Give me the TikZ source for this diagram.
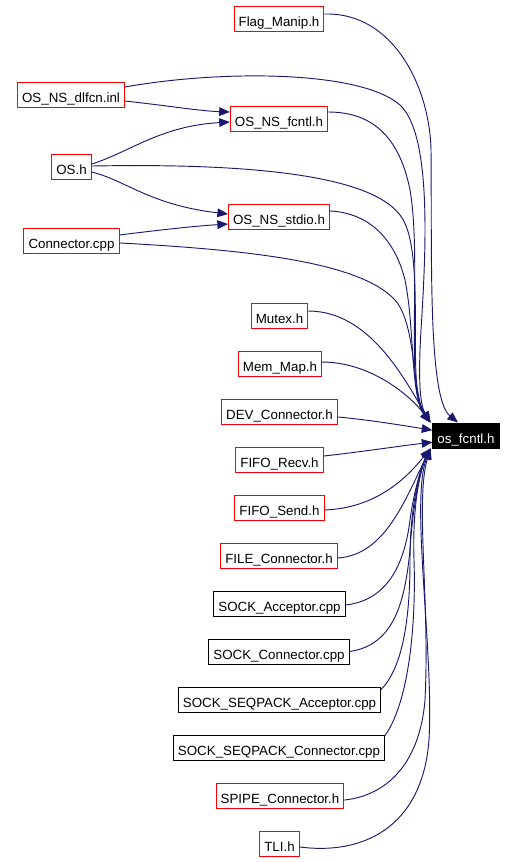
\documentclass[tikz,border=0pt]{standalone}
\usepackage{fontspec}
\setmainfont{Liberation Sans}
\usetikzlibrary{arrows.meta}
\definecolor{edgeblue}{HTML}{191970}
\tikzset{
  fnode/.style={draw=red, line width=0.75pt, rectangle, inner xsep=3.4pt, inner ysep=0pt,
    minimum height=18.75pt, font=\fontsize{10pt}{12pt}\selectfont, text height=11.25pt, text depth=0pt},
  bnode/.style={fnode, draw=black},
  hnode/.style={fnode, draw=black, fill=black, text=white},
  dep/.style={draw=edgeblue, line width=0.7pt, -{Triangle[length=8pt,width=6.5pt]}, fill=none},
}
\begin{document}
\begin{tikzpicture}[x=0.75pt,y=-0.75pt]
\useasboundingbox (0,0) rectangle (515,862);
% nodes
\node[fnode] (flag) at (279,19.5) {Flag\_Manip.h};
\node[fnode] (dlfcn) at (71,95) {OS\_NS\_dlfcn.inl};
\node[fnode] (fcntl) at (279,119) {OS\_NS\_fcntl.h};
\node[fnode] (os) at (71.5,167.5) {OS.h};
\node[fnode] (stdio) at (279,217.5) {OS\_NS\_stdio.h};
\node[fnode] (conn) at (71.5,241.5) {Connector.cpp};
\node[fnode] (mutex) at (279.5,316) {Mutex.h};
\node[fnode] (mem) at (280,363.5) {Mem\_Map.h};
\node[fnode] (dev) at (279.5,411.5) {DEV\_Connector.h};
\node[fnode] (frecv) at (279.5,459.5) {FIFO\_Recv.h};
\node[fnode] (fsend) at (279.5,508) {FIFO\_Send.h};
\node[fnode] (file) at (279,556) {FILE\_Connector.h};
\node[bnode] (sacc) at (279.5,604) {SOCK\_Acceptor.cpp};
\node[bnode] (sconn) at (279,651.5) {SOCK\_Connector.cpp};
\node[bnode] (qacc) at (279.5,699.5) {SOCK\_SEQPACK\_Acceptor.cpp};
\node[bnode] (qconn) at (279,747.5) {SOCK\_SEQPACK\_Connector.cpp};
\node[fnode] (spipe) at (280,795.5) {SPIPE\_Connector.h};
\node[fnode] (tli) at (279.5,843.5) {TLI.h};
\node[hnode] (osf) at (466,435.5) {os\_fcntl.h};
% edges to intermediate headers
\draw[dep] ([yshift=-4.5pt]dlfcn.east) .. controls (170,106) and (200,111) .. ([yshift=5.25pt]fcntl.west);
\draw[dep] ([yshift=2.6pt]os.east) .. controls (130,152) and (160,126) .. ([yshift=-2.25pt]fcntl.west);
\draw[dep] ([yshift=-3.4pt]os.east) .. controls (125,180) and (150,205) .. ([yshift=2.6pt]stdio.west);
\draw[dep] ([yshift=4.9pt]conn.east) .. controls (160,230) and (195,226) .. ([yshift=-4.9pt]stdio.west);
% edges to os_fcntl.h from above
\draw[dep] ([yshift=4.1pt]flag.east) .. controls (395,12) and (430,90) .. (431,150) .. controls (432,260) and (428,398) .. ([xshift=-6pt]osf.north);
\draw[dep] ([yshift=6pt]dlfcn.east) .. controls (220,70) and (360,70) .. (400,105) .. controls (432,135) and (426,250) .. (421,330) .. controls (418,380) and (420,405) .. ([xshift=-1.5pt]osf.north west);
\draw[dep] ([yshift=5.25pt]fcntl.east) .. controls (375,112) and (400,140) .. (410,190) .. controls (422,260) and (405,390) .. ([xshift=-1.5pt]osf.north west);
\draw[dep] ([yshift=1.1pt]os.east) .. controls (250,163) and (370,175) .. (400,215) .. controls (428,250) and (405,390) .. ([xshift=-1.5pt]osf.north west);
\draw[dep] ([yshift=4.9pt]stdio.east) .. controls (370,213) and (395,240) .. (405,280) .. controls (415,330) and (410,395) .. ([xshift=-1.5pt]osf.north west);
\draw[dep] ([yshift=-1.1pt]conn.east) .. controls (250,250) and (360,262) .. (395,300) .. controls (417,325) and (412,395) .. ([xshift=-1.5pt]osf.north west);
\draw[dep] ([yshift=3.75pt]mutex.east) .. controls (370,311) and (405,380) .. ([xshift=-1.5pt]osf.north west);
\draw[dep] ([yshift=1.1pt]mem.east) .. controls (370,362) and (410,395) .. ([xshift=-1.5pt]osf.north west);
\draw[dep] ([yshift=-4.1pt]dev.east) .. controls (370,420) and (400,425) .. ([yshift=4pt]osf.west);
% edges to os_fcntl.h from below
\draw[dep] ([yshift=2.6pt]frecv.east) .. controls (360,452) and (400,446) .. ([yshift=-5pt]osf.west);
\draw[dep] ([yshift=-1.5pt]fsend.east) .. controls (375,508) and (405,480) .. ([xshift=-1.5pt]osf.south west);
\draw[dep] ([yshift=-1.5pt]file.east) .. controls (385,555) and (405,500) .. ([xshift=-1.5pt]osf.south west);
\draw[dep] ([yshift=-0.75pt]sacc.east) .. controls (390,600) and (405,560) .. (410,520) .. controls (414,490) and (422,465) .. ([xshift=-1.5pt]osf.south west);
\draw[dep] (sconn.east) .. controls (395,645) and (405,600) .. (410,550) .. controls (413,500) and (422,465) .. ([xshift=-1.5pt]osf.south west);
\draw[dep] ([yshift=-2.25pt]qacc.north east) .. controls (405,665) and (410,610) .. (410,560) .. controls (410,500) and (422,465) .. ([xshift=-1.5pt]osf.south west);
\draw[dep] ([yshift=-0.75pt]qconn.north east) .. controls (410,700) and (416,620) .. (414,560) .. controls (412,500) and (422,465) .. ([xshift=-1.5pt]osf.south west);
\draw[dep] ([yshift=-3.4pt]spipe.east) .. controls (390,795) and (420,760) .. (425,700) .. controls (430,600) and (415,500) .. ([xshift=-1.5pt]osf.south west);
\draw[dep] ([yshift=-2.6pt]tli.east) .. controls (360,855) and (422,830) .. (429,740) .. controls (434,650) and (410,500) .. ([xshift=-1.5pt]osf.south west);
\end{tikzpicture}
\end{document}
